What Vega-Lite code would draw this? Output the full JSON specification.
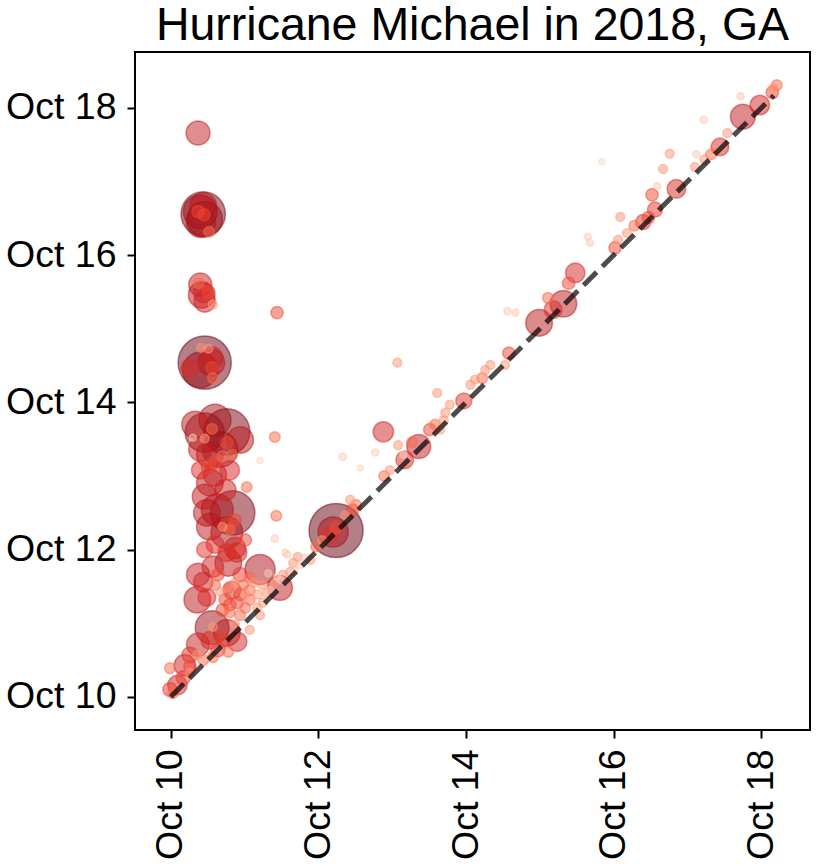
{
  "$schema": "https://vega.github.io/schema/vega-lite/v6.json",
  "width": 675,
  "height": 678,
  "autosize": "none",
  "padding": {"left": 135, "top": 52, "right": 20, "bottom": 136},
  "background": "white",
  "config": {
    "font": "Liberation Sans",
    "view": {"stroke": "#000000", "strokeWidth": 2},
    "axis": {
      "grid": false,
      "domain": false,
      "ticks": true,
      "tickColor": "#000000",
      "tickWidth": 2,
      "tickSize": 8,
      "labelFont": "Liberation Sans",
      "labelFontSize": 37.5,
      "labelColor": "#000000",
      "labelPadding": 11,
      "title": null
    },
    "title": {"font": "Liberation Sans", "fontSize": 46.5, "fontWeight": "normal", "color": "#000000", "anchor": "middle", "offset": 3}
  },
  "title": "Hurricane Michael in 2018, GA",
  "layer": [
    {
      "data": {
        "values": [
          {"start": 10.37, "end": 17.66, "customers": 572},
          {"start": 10.44, "end": 16.56, "customers": 1963},
          {"start": 10.41, "end": 16.44, "customers": 855},
          {"start": 10.40, "end": 16.59, "customers": 1134},
          {"start": 10.46, "end": 16.49, "customers": 1256},
          {"start": 10.44, "end": 16.67, "customers": 707},
          {"start": 10.37, "end": 16.59, "customers": 154},
          {"start": 10.45, "end": 16.55, "customers": 154},
          {"start": 10.52, "end": 16.32, "customers": 113},
          {"start": 10.40, "end": 15.60, "customers": 531},
          {"start": 10.46, "end": 15.37, "customers": 452},
          {"start": 10.44, "end": 15.49, "customers": 380},
          {"start": 10.42, "end": 15.46, "customers": 707},
          {"start": 10.38, "end": 15.62, "customers": 113},
          {"start": 10.51, "end": 15.50, "customers": 154},
          {"start": 10.57, "end": 15.33, "customers": 79},
          {"start": 11.44, "end": 15.22, "customers": 154},
          {"start": 10.46, "end": 14.54, "customers": 2826},
          {"start": 10.40, "end": 14.44, "customers": 1256},
          {"start": 10.56, "end": 14.61, "customers": 452},
          {"start": 10.26, "end": 14.47, "customers": 314},
          {"start": 10.55, "end": 14.54, "customers": 707},
          {"start": 10.56, "end": 14.47, "customers": 154},
          {"start": 10.57, "end": 14.33, "customers": 113},
          {"start": 10.41, "end": 14.74, "customers": 79},
          {"start": 10.51, "end": 14.73, "customers": 79},
          {"start": 10.46, "end": 13.59, "customers": 1520},
          {"start": 10.76, "end": 13.60, "customers": 2123},
          {"start": 10.67, "end": 13.36, "customers": 1256},
          {"start": 10.33, "end": 13.70, "customers": 707},
          {"start": 10.60, "end": 13.76, "customers": 1017},
          {"start": 10.94, "end": 13.49, "customers": 707},
          {"start": 10.40, "end": 13.36, "customers": 531},
          {"start": 10.56, "end": 13.64, "customers": 113},
          {"start": 10.30, "end": 13.52, "customers": 50},
          {"start": 10.46, "end": 13.51, "customers": 79},
          {"start": 10.76, "end": 13.45, "customers": 154},
          {"start": 10.70, "end": 13.27, "customers": 113},
          {"start": 10.83, "end": 13.29, "customers": 113},
          {"start": 10.51, "end": 13.13, "customers": 201},
          {"start": 10.60, "end": 13.18, "customers": 154},
          {"start": 10.53, "end": 13.29, "customers": 707},
          {"start": 11.41, "end": 13.53, "customers": 113},
          {"start": 11.21, "end": 13.21, "customers": 38},
          {"start": 11.03, "end": 12.85, "customers": 113},
          {"start": 11.43, "end": 12.46, "customers": 113},
          {"start": 11.41, "end": 12.15, "customers": 50},
          {"start": 11.55, "end": 11.96, "customers": 50},
          {"start": 10.60, "end": 13.02, "customers": 531},
          {"start": 10.74, "end": 12.81, "customers": 452},
          {"start": 10.40, "end": 13.08, "customers": 314},
          {"start": 10.80, "end": 13.08, "customers": 380},
          {"start": 10.53, "end": 12.91, "customers": 707},
          {"start": 10.46, "end": 12.72, "customers": 616},
          {"start": 10.84, "end": 12.50, "customers": 1963},
          {"start": 10.63, "end": 12.54, "customers": 1017},
          {"start": 10.49, "end": 12.50, "customers": 707},
          {"start": 10.53, "end": 12.31, "customers": 707},
          {"start": 10.76, "end": 12.23, "customers": 1017},
          {"start": 10.87, "end": 12.40, "customers": 154},
          {"start": 10.76, "end": 12.34, "customers": 201},
          {"start": 10.80, "end": 12.27, "customers": 113},
          {"start": 10.70, "end": 12.31, "customers": 79},
          {"start": 10.60, "end": 12.07, "customers": 314},
          {"start": 10.87, "end": 12.02, "customers": 452},
          {"start": 10.46, "end": 12.00, "customers": 254},
          {"start": 11.01, "end": 12.13, "customers": 154},
          {"start": 10.76, "end": 11.96, "customers": 314},
          {"start": 10.90, "end": 11.96, "customers": 380},
          {"start": 10.37, "end": 11.66, "customers": 531},
          {"start": 10.44, "end": 11.56, "customers": 380},
          {"start": 10.78, "end": 11.82, "customers": 707},
          {"start": 11.21, "end": 11.73, "customers": 908},
          {"start": 11.48, "end": 11.48, "customers": 616},
          {"start": 10.57, "end": 11.77, "customers": 452},
          {"start": 10.36, "end": 11.32, "customers": 707},
          {"start": 10.49, "end": 11.35, "customers": 314},
          {"start": 10.83, "end": 11.45, "customers": 314},
          {"start": 10.94, "end": 11.39, "customers": 154},
          {"start": 10.74, "end": 11.32, "customers": 154},
          {"start": 10.90, "end": 11.28, "customers": 154},
          {"start": 10.98, "end": 11.52, "customers": 113},
          {"start": 10.87, "end": 11.55, "customers": 79},
          {"start": 11.12, "end": 11.55, "customers": 79},
          {"start": 11.32, "end": 11.68, "customers": 50},
          {"start": 11.44, "end": 11.63, "customers": 50},
          {"start": 11.58, "end": 11.93, "customers": 50},
          {"start": 11.66, "end": 11.82, "customers": 79},
          {"start": 11.72, "end": 11.90, "customers": 79},
          {"start": 11.82, "end": 11.89, "customers": 50},
          {"start": 11.62, "end": 11.70, "customers": 79},
          {"start": 11.48, "end": 11.59, "customers": 50},
          {"start": 10.60, "end": 11.52, "customers": 113},
          {"start": 10.67, "end": 11.43, "customers": 79},
          {"start": 10.78, "end": 11.48, "customers": 113},
          {"start": 11.01, "end": 11.39, "customers": 79},
          {"start": 11.07, "end": 11.45, "customers": 113},
          {"start": 11.18, "end": 11.39, "customers": 79},
          {"start": 11.24, "end": 11.52, "customers": 79},
          {"start": 11.35, "end": 11.45, "customers": 50},
          {"start": 11.41, "end": 11.55, "customers": 79},
          {"start": 11.52, "end": 11.66, "customers": 79},
          {"start": 11.68, "end": 11.73, "customers": 50},
          {"start": 11.75, "end": 11.79, "customers": 50},
          {"start": 11.89, "end": 11.86, "customers": 79},
          {"start": 10.64, "end": 11.66, "customers": 154},
          {"start": 10.94, "end": 11.66, "customers": 201},
          {"start": 11.07, "end": 11.62, "customers": 113},
          {"start": 10.80, "end": 11.25, "customers": 154},
          {"start": 11.01, "end": 11.21, "customers": 113},
          {"start": 11.21, "end": 11.11, "customers": 79},
          {"start": 10.70, "end": 11.18, "customers": 154},
          {"start": 10.80, "end": 11.15, "customers": 113},
          {"start": 10.94, "end": 11.11, "customers": 113},
          {"start": 11.07, "end": 11.32, "customers": 113},
          {"start": 11.17, "end": 11.21, "customers": 79},
          {"start": 11.25, "end": 11.28, "customers": 79},
          {"start": 11.30, "end": 11.41, "customers": 79},
          {"start": 10.56, "end": 10.94, "customers": 1134},
          {"start": 10.76, "end": 10.87, "customers": 707},
          {"start": 10.90, "end": 10.75, "customers": 380},
          {"start": 10.57, "end": 10.95, "customers": 79},
          {"start": 10.87, "end": 10.98, "customers": 79},
          {"start": 11.07, "end": 10.91, "customers": 79},
          {"start": 10.71, "end": 10.77, "customers": 201},
          {"start": 10.64, "end": 10.64, "customers": 201},
          {"start": 10.57, "end": 10.54, "customers": 113},
          {"start": 10.44, "end": 10.50, "customers": 113},
          {"start": 10.36, "end": 10.57, "customers": 79},
          {"start": 10.78, "end": 10.61, "customers": 113},
          {"start": 10.19, "end": 10.43, "customers": 452},
          {"start": 10.37, "end": 10.71, "customers": 531},
          {"start": 10.53, "end": 10.77, "customers": 314},
          {"start": 10.26, "end": 10.57, "customers": 254},
          {"start": 10.09, "end": 10.16, "customers": 380},
          {"start": 9.99, "end": 10.10, "customers": 201},
          {"start": 10.17, "end": 10.26, "customers": 201},
          {"start": 9.99, "end": 10.39, "customers": 113},
          {"start": 10.26, "end": 10.41, "customers": 154},
          {"start": 10.03, "end": 10.05, "customers": 113},
          {"start": 10.26, "end": 10.33, "customers": 79},
          {"start": 12.24, "end": 12.26, "customers": 2921},
          {"start": 12.20, "end": 12.24, "customers": 908},
          {"start": 12.16, "end": 12.20, "customers": 254},
          {"start": 12.24, "end": 12.30, "customers": 154},
          {"start": 12.46, "end": 12.54, "customers": 154},
          {"start": 12.51, "end": 12.61, "customers": 113},
          {"start": 12.43, "end": 12.68, "customers": 79},
          {"start": 12.36, "end": 12.47, "customers": 79},
          {"start": 11.97, "end": 12.04, "customers": 113},
          {"start": 12.05, "end": 12.13, "customers": 79},
          {"start": 12.88, "end": 13.60, "customers": 415},
          {"start": 13.36, "end": 13.40, "customers": 572},
          {"start": 13.17, "end": 13.22, "customers": 314},
          {"start": 13.08, "end": 13.42, "customers": 79},
          {"start": 13.15, "end": 13.29, "customers": 50},
          {"start": 13.27, "end": 13.46, "customers": 113},
          {"start": 13.51, "end": 13.63, "customers": 154},
          {"start": 13.58, "end": 13.70, "customers": 113},
          {"start": 13.70, "end": 13.76, "customers": 79},
          {"start": 13.65, "end": 13.63, "customers": 79},
          {"start": 12.33, "end": 13.26, "customers": 50},
          {"start": 12.57, "end": 13.11, "customers": 38},
          {"start": 12.77, "end": 13.32, "customers": 50},
          {"start": 12.89, "end": 13.00, "customers": 113},
          {"start": 12.97, "end": 13.08, "customers": 79},
          {"start": 13.07, "end": 14.54, "customers": 79},
          {"start": 13.61, "end": 14.13, "customers": 79},
          {"start": 13.72, "end": 13.86, "customers": 79},
          {"start": 13.78, "end": 13.97, "customers": 79},
          {"start": 13.97, "end": 14.02, "customers": 254},
          {"start": 14.06, "end": 14.24, "customers": 79},
          {"start": 14.12, "end": 14.31, "customers": 79},
          {"start": 14.26, "end": 14.44, "customers": 79},
          {"start": 14.33, "end": 14.51, "customers": 79},
          {"start": 14.22, "end": 14.33, "customers": 113},
          {"start": 14.58, "end": 14.67, "customers": 154},
          {"start": 14.53, "end": 14.51, "customers": 79},
          {"start": 14.99, "end": 15.08, "customers": 707},
          {"start": 15.32, "end": 15.34, "customers": 707},
          {"start": 15.18, "end": 15.26, "customers": 314},
          {"start": 15.11, "end": 15.42, "customers": 113},
          {"start": 14.56, "end": 15.24, "customers": 50},
          {"start": 14.67, "end": 15.22, "customers": 50},
          {"start": 15.48, "end": 15.76, "customers": 380},
          {"start": 15.39, "end": 15.62, "customers": 154},
          {"start": 15.65, "end": 16.25, "customers": 50},
          {"start": 15.68, "end": 16.17, "customers": 50},
          {"start": 16.02, "end": 16.10, "customers": 154},
          {"start": 16.06, "end": 16.21, "customers": 79},
          {"start": 16.18, "end": 16.30, "customers": 79},
          {"start": 16.40, "end": 16.45, "customers": 227},
          {"start": 16.28, "end": 16.40, "customers": 113},
          {"start": 16.47, "end": 16.51, "customers": 154},
          {"start": 16.09, "end": 16.52, "customers": 79},
          {"start": 16.56, "end": 16.62, "customers": 227},
          {"start": 16.52, "end": 16.82, "customers": 154},
          {"start": 16.59, "end": 16.94, "customers": 50},
          {"start": 16.85, "end": 16.90, "customers": 346},
          {"start": 16.67, "end": 17.17, "customers": 79},
          {"start": 16.76, "end": 17.38, "customers": 79},
          {"start": 15.84, "end": 17.27, "customers": 38},
          {"start": 17.10, "end": 17.20, "customers": 79},
          {"start": 17.12, "end": 17.37, "customers": 50},
          {"start": 17.32, "end": 17.37, "customers": 113},
          {"start": 17.44, "end": 17.47, "customers": 314},
          {"start": 17.23, "end": 17.30, "customers": 79},
          {"start": 17.54, "end": 17.66, "customers": 79},
          {"start": 17.22, "end": 17.84, "customers": 50},
          {"start": 17.75, "end": 17.88, "customers": 616},
          {"start": 17.98, "end": 18.04, "customers": 380},
          {"start": 17.72, "end": 18.16, "customers": 50},
          {"start": 18.15, "end": 18.21, "customers": 154},
          {"start": 18.21, "end": 18.31, "customers": 113},
          {"start": 18.16, "end": 18.27, "customers": 79}
        ]
      },
      "mark": {"type": "circle", "fillOpacity": 0.5, "strokeOpacity": 0.5, "strokeWidth": 1.5},
      "encoding": {
        "x": {
          "field": "start",
          "type": "quantitative",
          "scale": {"domain": [9.516, 18.66], "nice": false, "zero": false},
          "axis": {"values": [10, 12, 14, 16, 18], "labelExpr": "'Oct ' + datum.value", "labelAngle": 270}
        },
        "y": {
          "field": "end",
          "type": "quantitative",
          "scale": {"domain": [9.55, 18.76], "nice": false, "zero": false},
          "axis": {"values": [10, 12, 14, 16, 18], "labelExpr": "'Oct ' + datum.value"}
        },
        "size": {
          "field": "customers",
          "type": "quantitative",
          "scale": {"domain": [0, 3000], "range": [0, 3000], "zero": true},
          "legend": null
        },
        "fill": {
          "field": "customers",
          "type": "quantitative",
          "scale": {"type": "log", "domain": [30, 50, 113, 154, 300, 700, 1500, 2900], "range": ["#fee3d6", "#fdc9b4", "#f9694c", "#ef4533", "#dd2a25", "#bb151a", "#8e0912", "#67000d"]},
          "legend": null
        },
        "stroke": {
          "field": "customers",
          "type": "quantitative",
          "scale": {"type": "log", "domain": [30, 50, 113, 154, 300, 700, 1500, 2900], "range": ["#fee3d6", "#fdc9b4", "#f9694c", "#ef4533", "#dd2a25", "#bb151a", "#8e0912", "#67000d"]},
          "legend": null
        },
        "order": {"field": "customers", "type": "quantitative", "sort": "descending"}
      }
    },
    {
      "data": {
        "values": [
          {"start": 10.0, "end": 10.0},
          {"start": 18.17, "end": 18.17}
        ]
      },
      "mark": {"type": "line", "color": "#000000", "opacity": 0.7, "strokeWidth": 5, "strokeDash": [18.5, 8], "strokeCap": "butt"},
      "encoding": {
        "x": {"field": "start", "type": "quantitative"},
        "y": {"field": "end", "type": "quantitative"}
      }
    }
  ]
}
